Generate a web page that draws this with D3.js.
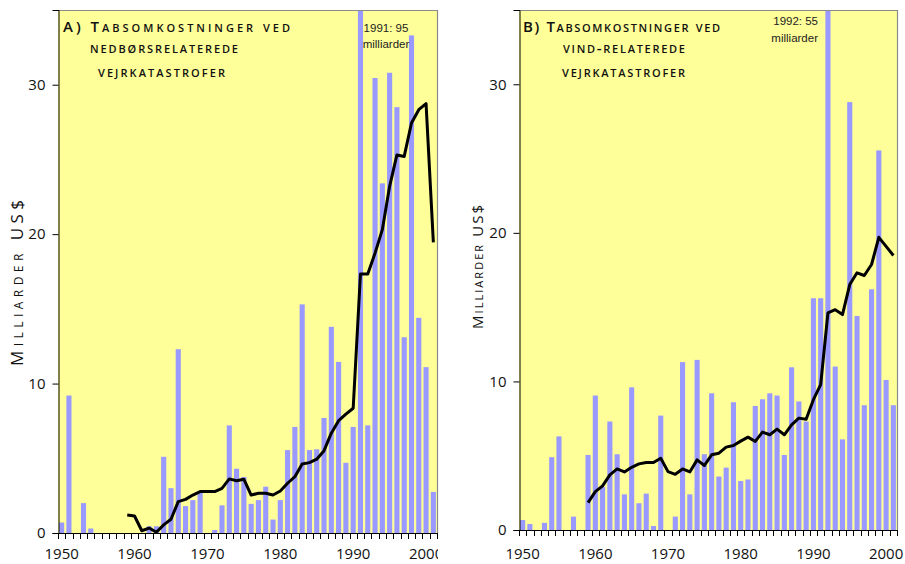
<!DOCTYPE html>
<html>
<head>
<meta charset="utf-8">
<script src="https://cdn.jsdelivr.net/npm/d3@7/dist/d3.min.js"></script>
<style>
  body { margin: 0; background: #ffffff; }
  svg { display: block; }
</style>
</head>
<body>
<svg id="chart" width="905" height="564"></svg>
<script>
// Years shown on both panels
const years = [
  1950, 1951, 1952, 1953, 1954, 1955, 1956, 1957, 1958, 1959,
  1960, 1961, 1962, 1963, 1964, 1965, 1966, 1967, 1968, 1969,
  1970, 1971, 1972, 1973, 1974, 1975, 1976, 1977, 1978, 1979,
  1980, 1981, 1982, 1983, 1984, 1985, 1986, 1987, 1988, 1989,
  1990, 1991, 1992, 1993, 1994, 1995, 1996, 1997, 1998, 1999,
  2000, 2001
];

// A) Annual losses, precipitation-related disasters (billion US$)
const precipLoss = [
  0.7, 9.2, 0, 2.0, 0.3, 0, 0, 0, 0, 0,
  0, 0, 0.45, 0.45, 5.1, 3.0, 12.3, 1.8, 2.2, 2.7,
  0, 0.2, 1.85, 7.2, 4.3, 3.75, 1.95, 2.2, 3.1, 0.9,
  2.2, 5.55, 7.1, 15.3, 5.55, 5.6, 7.7, 13.8, 11.45, 4.7,
  7.1, 95, 7.2, 30.45, 23.4, 30.8, 28.5, 13.1, 33.3, 14.4,
  11.1, 2.75
];

// Running means cover 1959-2001
const trendYears = [
  1959, 1960, 1961, 1962, 1963, 1964, 1965, 1966, 1967, 1968,
  1969, 1970, 1971, 1972, 1973, 1974, 1975, 1976, 1977, 1978,
  1979, 1980, 1981, 1982, 1983, 1984, 1985, 1986, 1987, 1988,
  1989, 1990, 1991, 1992, 1993, 1994, 1995, 1996, 1997, 1998,
  1999, 2000, 2001
];
const precipTrend = [
  1.2, 1.14, 0.15, 0.33, 0.05, 0.54, 0.92, 2.1, 2.25, 2.54,
  2.77, 2.77, 2.77, 2.99, 3.62, 3.5, 3.6, 2.54, 2.66, 2.66,
  2.54, 2.81, 3.33, 3.77, 4.62, 4.71, 4.94, 5.51, 6.68, 7.52,
  7.95, 8.35, 17.33, 17.33, 18.73, 20.3, 23.2, 25.3, 25.2, 27.44,
  28.33, 28.73, 19.45
];

// B) Annual losses, wind-related disasters (billion US$)
const windLoss = [
  0.67, 0.4, 0, 0.48, 4.9, 6.3, 0, 0.9, 0, 5.05,
  9.05, 2.9, 7.3, 5.1, 2.4, 9.6, 1.8, 2.45, 0.27, 7.7,
  0, 0.9, 11.3, 2.4, 11.45, 5.1, 9.2, 3.6, 4.2, 8.6,
  3.3, 3.4, 8.35, 8.8, 9.2, 9.05, 5.05, 10.95, 8.65, 7.3,
  15.6, 15.6, 55, 11.0, 6.1, 28.8, 14.4, 8.4, 16.2, 25.55,
  10.1, 8.4
];

const windTrend = [
  1.84, 2.58, 2.97, 3.71, 4.11, 3.91, 4.22, 4.45, 4.54, 4.54,
  4.83, 3.93, 3.75, 4.11, 3.91, 4.72, 4.34, 5.06, 5.17, 5.58,
  5.69, 5.98, 6.25, 5.96, 6.59, 6.41, 6.79, 6.41, 7.08, 7.53,
  7.46, 8.77, 9.78, 14.61, 14.83, 14.5, 16.52, 17.31, 17.13, 17.87,
  19.7, 19.09, 18.48
];

const yTicks = [0, 10, 20, 30];
const xTickLabels = [1950, 1960, 1970, 1980, 1990, 2000];
const yMax = 35;

const panels = [
  {
    id: "a", x0: 58, x1: 437, top: 10, bottom: 533,
    loss: precipLoss, trend: precipTrend,
    title: ["A) Tabsomkostninger ved", "nedbørsrelaterede", "vejrkatastrofer"],
    titleX: [63, 90, 98], titleLen: [227, 148, 127],
    note: ["1991: 95", "milliarder"], noteX: 386, noteAnchor: "middle", noteY: [32, 48],
    yLabelX: 23, yLabelY: 283, yLabelSize: 17, yLabelLen: 166, clipAxis: true
  },
  {
    id: "b", x0: 519, x1: 897, top: 10, bottom: 530,
    loss: windLoss, trend: windTrend,
    title: ["B) Tabsomkostninger ved", "vind-relaterede", "vejrkatastrofer"],
    titleX: [523, 563, 562], titleLen: [197, 122, 123],
    note: ["1992: 55", "milliarder"], noteX: 818, noteAnchor: "end", noteY: [25, 42],
    yLabelX: 483, yLabelY: 267, yLabelSize: 15, yLabelLen: 124, clipAxis: false
  }
];

const svg = d3.select("#chart");
const numFont = "'Open Sans', 'DejaVu Sans', sans-serif";

panels.forEach(p => {
  const g = svg.append("g").attr("class", "panel-" + p.id);

  const x = d3.scaleBand().domain(years).range([p.x0, p.x1]).paddingInner(0.3).paddingOuter(0.15);
  const xStep = d3.scaleBand().domain(years).range([p.x0, p.x1]);
  const y = d3.scaleLinear().domain([0, yMax]).range([p.bottom, p.top]).clamp(true);

  // plot background
  g.append("rect")
    .attr("x", p.x0).attr("y", p.top)
    .attr("width", p.x1 - p.x0).attr("height", p.bottom - p.top)
    .attr("fill", "#ffff99");

  // bars
  g.append("g").selectAll("rect")
    .data(years.map((yr, i) => ({ yr, v: p.loss[i] })).filter(d => d.v > 0))
    .join("rect")
    .attr("x", d => x(d.yr))
    .attr("width", x.bandwidth())
    .attr("y", d => y(d.v))
    .attr("height", d => p.bottom - y(d.v))
    .attr("fill", "#9999ff");

  // frame: grey on top and right
  g.append("path")
    .attr("d", `M${p.x0},${p.top + 0.5}H${p.x1 + 0.5}V${p.bottom}`)
    .attr("fill", "none").attr("stroke", "#8a8a8a").attr("stroke-width", 1.2);

  // running mean
  const line = d3.line()
    .x((d, i) => xStep(trendYears[i]) + xStep.bandwidth() / 2)
    .y(d => y(d))
    .curve(d3.curveLinear);
  g.append("path")
    .datum(p.trend)
    .attr("d", line)
    .attr("fill", "none")
    .attr("stroke", "#000")
    .attr("stroke-width", 3)
    .attr("stroke-linejoin", "round")
    .attr("stroke-linecap", "butt");

  // y axis
  const yAxis = d3.axisLeft(y).tickValues(yTicks).tickSize(6).tickPadding(7).tickFormat(d3.format("d"));
  const gy = g.append("g").attr("transform", `translate(${p.x0 + 0.5},0)`).call(yAxis);
  gy.select(".domain").attr("stroke", "#000");
  gy.selectAll("text").attr("font-family", numFont).attr("font-size", 15).attr("fill", "#111");

  // x axis: a tick at each category boundary, labels each decade
  const gxClip = p.clipAxis ? "clip-" + p.id : null;
  if (gxClip) {
    svg.append("defs").append("clipPath").attr("id", gxClip)
      .append("rect").attr("x", 0).attr("y", 0).attr("width", p.x1 + 1).attr("height", 564);
  }
  const gx = g.append("g");
  if (gxClip) gx.attr("clip-path", `url(#${gxClip})`);
  gx.append("line")
    .attr("x1", p.x0).attr("x2", p.x1 + 0.5)
    .attr("y1", p.bottom + 0.5).attr("y2", p.bottom + 0.5)
    .attr("stroke", "#000");
  const bounds = years.map(yr => xStep(yr)).concat([p.x1]);
  gx.selectAll("line.tick").data(bounds).join("line")
    .attr("class", "tick")
    .attr("x1", d => Math.round(d) + 0.5).attr("x2", d => Math.round(d) + 0.5)
    .attr("y1", p.bottom).attr("y2", p.bottom + 6)
    .attr("stroke", "#000");
  gx.selectAll("text").data(xTickLabels).join("text")
    .attr("x", d => xStep(d) + xStep.bandwidth() / 2)
    .attr("y", 559)
    .attr("text-anchor", "middle")
    .attr("font-family", numFont).attr("font-size", 15).attr("fill", "#111")
    .text(d => d);

  // y label
  g.append("text")
    .attr("transform", `translate(${p.yLabelX},${p.yLabelY}) rotate(-90)`)
    .attr("text-anchor", "middle")
    .attr("font-family", numFont)
    .attr("font-size", p.yLabelSize)
    .attr("font-variant", "small-caps")
    .attr("textLength", p.yLabelLen)
    .attr("lengthAdjust", "spacing")
    .attr("fill", "#111")
    .text("Milliarder US$");

  // title, three lines
  const titleY = [32, 53, 77];
  p.title.forEach((t, i) => {
    g.append("text")
      .attr("x", p.titleX[i]).attr("y", titleY[i])
      .attr("font-family", numFont)
      .attr("font-weight", 600)
      .attr("font-size", 15)
      .attr("font-variant", "small-caps")
      .attr("textLength", p.titleLen[i])
      .attr("lengthAdjust", "spacing")
      .attr("fill", "#111")
      .text(t);
  });

  // note for the off-scale bar
  p.note.forEach((t, i) => {
    g.append("text")
      .attr("x", p.noteX).attr("y", p.noteY[i])
      .attr("text-anchor", p.noteAnchor)
      .attr("font-family", "'Liberation Sans', Arial, sans-serif")
      .attr("font-size", 11.5)
      .attr("fill", "#222")
      .text(t);
  });
});
</script>
</body>
</html>
